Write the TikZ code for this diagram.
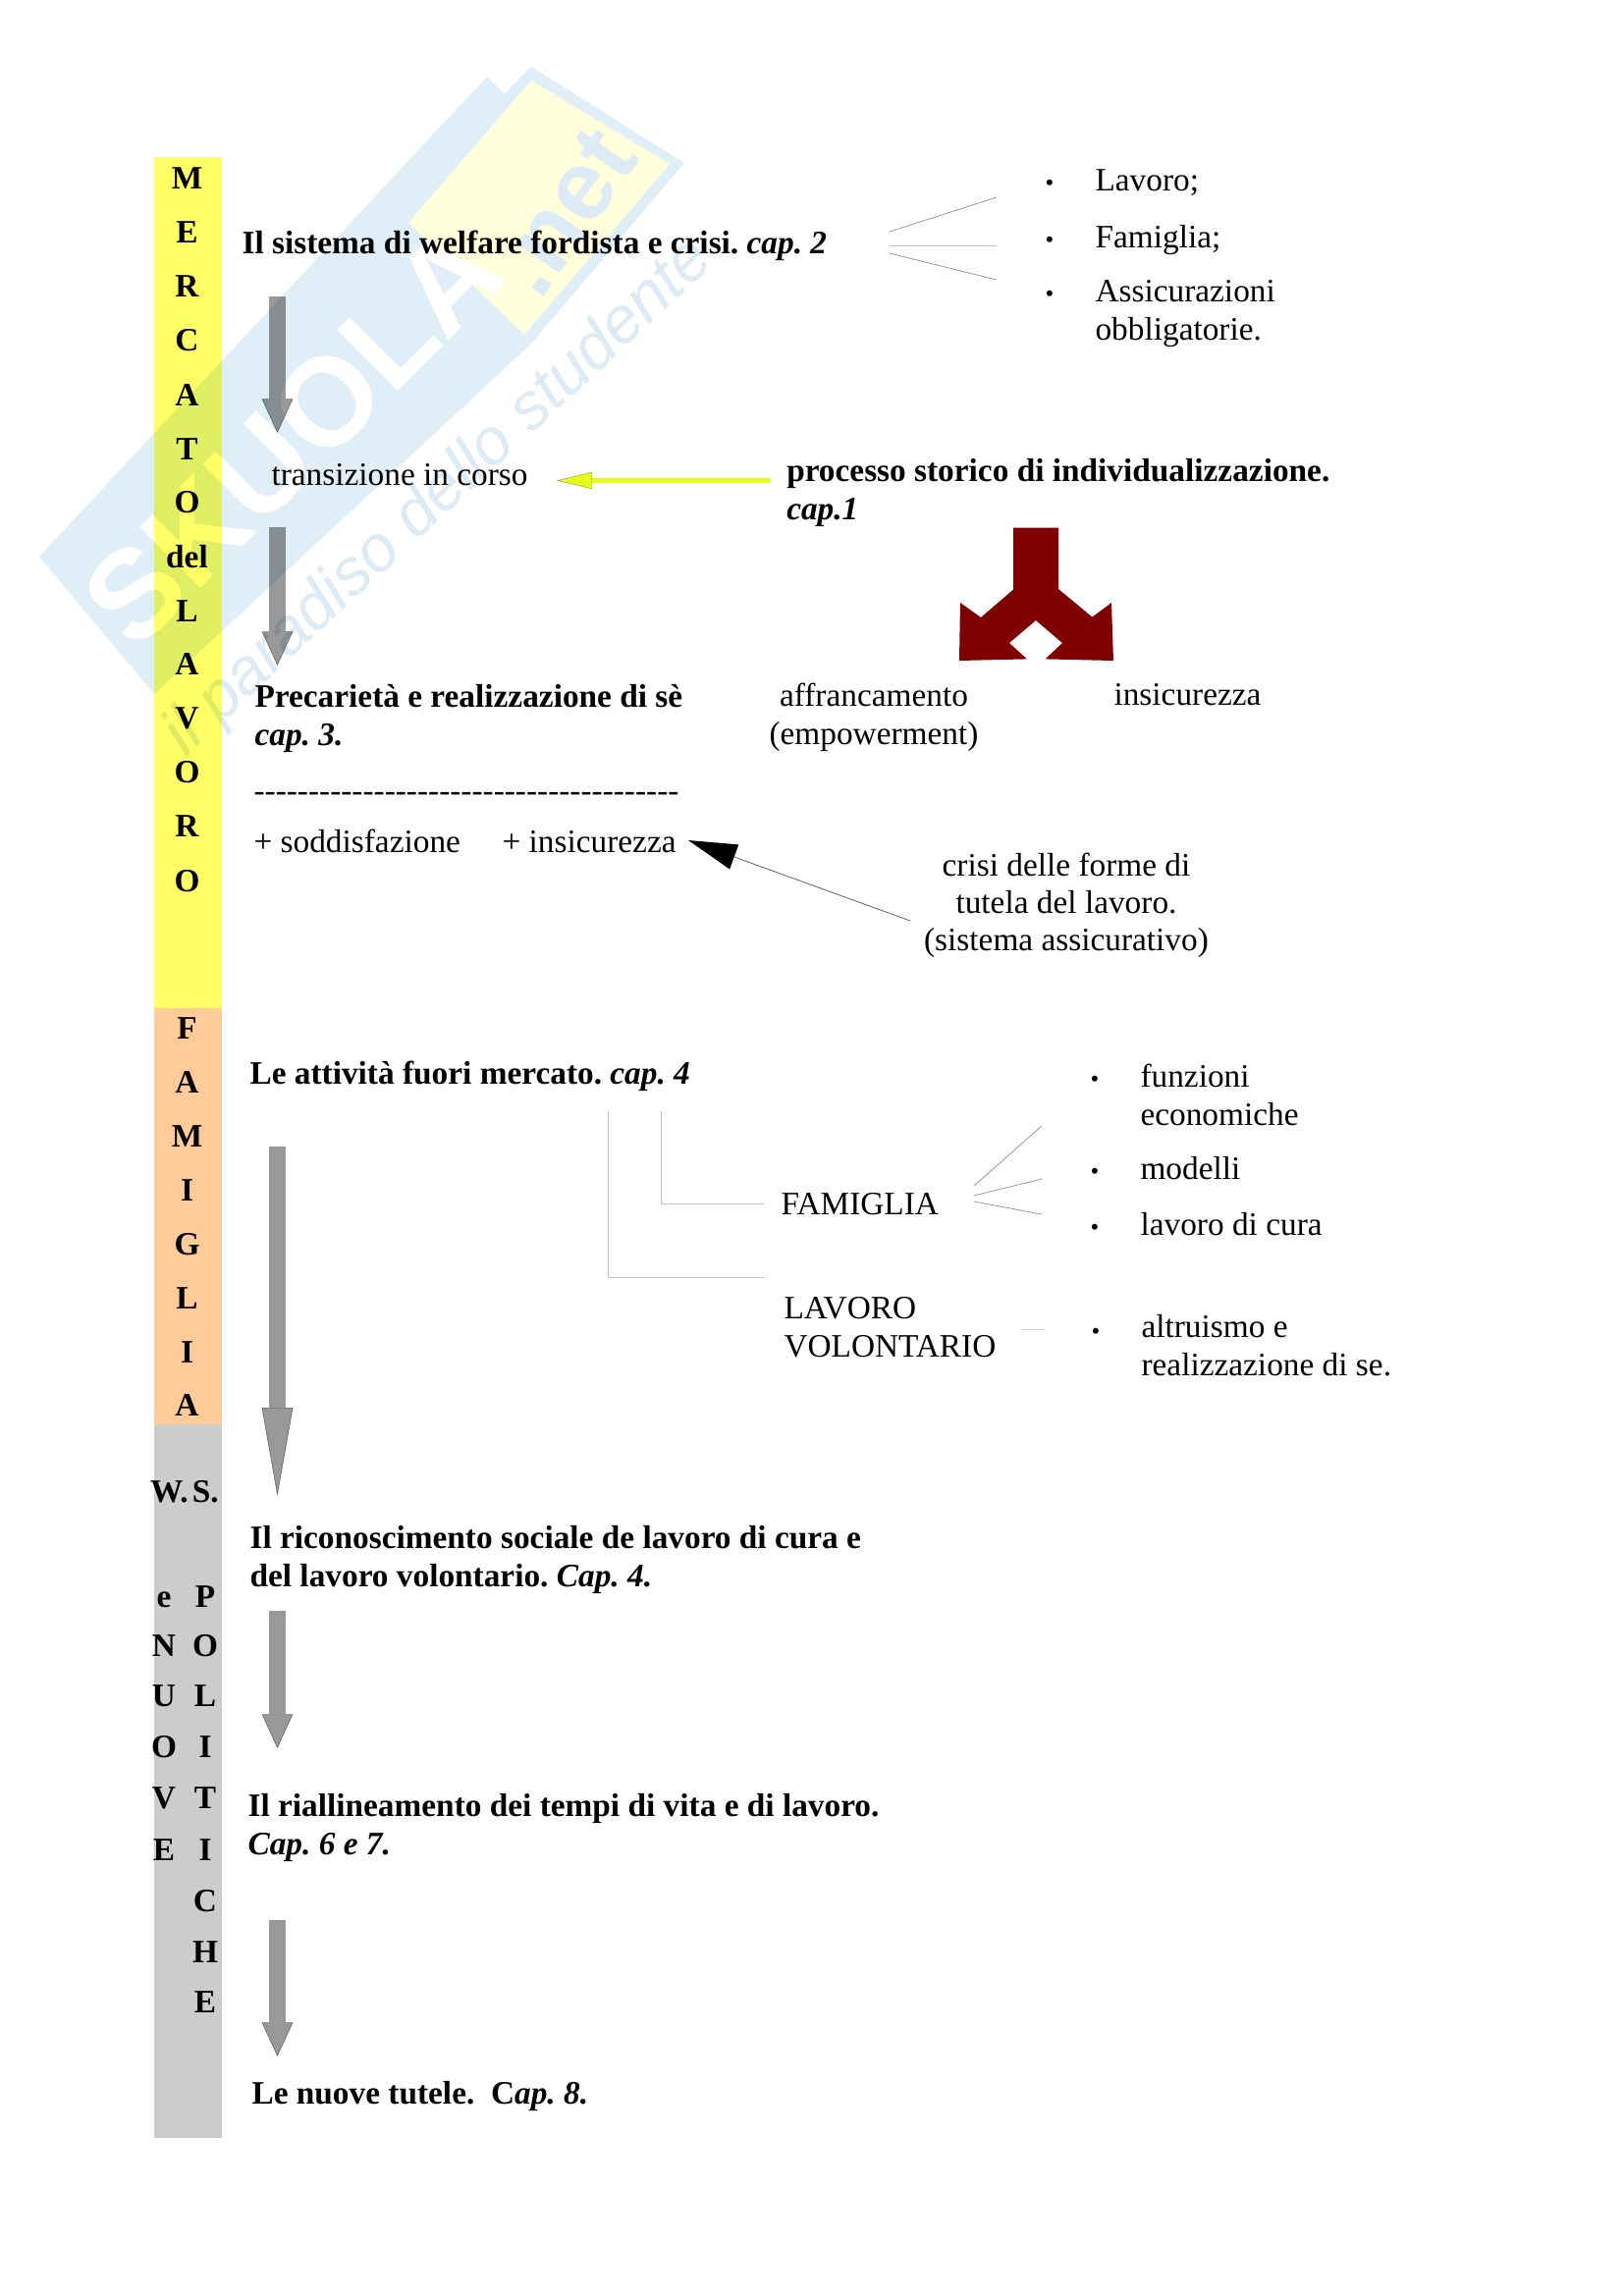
\documentclass[tikz,border=0pt]{standalone}
\usepackage{fontspec}
\setmainfont{Liberation Serif}
\newfontfamily\wmfont{Liberation Sans}
\usetikzlibrary{arrows.meta}
\definecolor{barY}{HTML}{FFFF66}
\definecolor{barO}{HTML}{FFCC99}
\definecolor{barG}{HTML}{CCCCCC}
\definecolor{arrG}{HTML}{999999}
\definecolor{forkR}{HTML}{800000}
\definecolor{wmB}{HTML}{E0EEF8}
\definecolor{wmY}{HTML}{FFFFDC}
\definecolor{wmT}{HTML}{DCEBF6}
\definecolor{lemon}{HTML}{E6FF1A}
\definecolor{lemonD}{HTML}{A0A830}
\newcommand{\hy}{-\kern0pt}
\newcommand{\hyten}{\hy\hy\hy\hy\hy\hy\hy\hy\hy\hy}
\tikzset{
  x=0.36pt,y=-0.36pt,
  txt/.style={anchor=base west,inner sep=0pt,align=left,font=\fontsize{12}{13.7}\selectfont\frenchspacing},
  ctr/.style={anchor=base,inner sep=0pt,align=center,font=\fontsize{12}{13.7}\selectfont\frenchspacing},
  bar/.style={anchor=base,inner sep=0pt,font=\fontsize{12}{14}\selectfont\bfseries},
  bul/.style={anchor=base west,inner sep=0pt,font=\fontsize{9}{10}\selectfont},
  blockarrow/.style={line width=6.1pt,arrG,-{Triangle[length=12.5pt,width=11.4pt,fill=arrG,color=arrG!85!black,line width=0.2pt]}},
  longarrow/.style={line width=6.1pt,arrG,-{Triangle[length=32.4pt,width=11.4pt,fill=arrG,color=arrG!85!black,line width=0.2pt]}},
  thinline/.style={draw=black!45,line width=0.25pt},
  paleline/.style={draw=black!25,line width=0.3pt},
  yarrow/.style={line width=1.8pt,draw=lemon,-{Triangle[length=13pt,width=6.2pt,fill=lemon,color=lemonD,line width=0.2pt]}},
  karrow/.style={line width=0.3pt,draw=black!60,-{Triangle[length=17.9pt,width=9.6pt,black,line width=0pt]}},
}
\begin{document}
\begin{tikzpicture}
\useasboundingbox (0,0) rectangle (1653,2339);
\fill[white] (0,0) rectangle (1653,2339);
% watermark
\fill[wmB] (40,567) -- (496,78) -- (514,96) -- (541,68) -- (697,166) -- (541,350) -- (157,707) -- cycle;
\fill[wmY] (541,82) -- (682,167) -- (534,341) -- (416,227) -- cycle;
\node[rotate=45,text=white,inner sep=0pt,font=\wmfont\bfseries\fontsize{46}{46}\selectfont] (wm1) at (298,444) {SKUOLA};
\node[rotate=55,text=wmT,inner sep=0pt,font=\wmfont\bfseries\fontsize{36}{36}\selectfont] (wm2) at (575,216) {.net};
\node[rotate=43,text=wmT,inner sep=0pt,font=\wmfont\itshape\fontsize{24}{24}\selectfont] (wm3) at (447,507) {il paradiso dello studente};
\begin{scope}[blend mode=multiply]
% side bars
\fill[barY] (156.5,160) rectangle (226,1027);
\fill[barO] (156.5,1027) rectangle (226,1451);
\fill[barG] (156.5,1451) rectangle (226,2178);
% arrows
\coordinate (a1s) at (282.5,302); \coordinate (a1e) at (282.5,441);
\coordinate (a2s) at (282.5,537); \coordinate (a2e) at (282.5,678);
\coordinate (a3s) at (282.5,1168); \coordinate (a3e) at (282.5,1524);
\coordinate (a4s) at (282.5,1641); \coordinate (a4e) at (282.5,1781);
\coordinate (a5s) at (282.5,1956); \coordinate (a5e) at (282.5,2095);
\draw[blockarrow] (a1s) -- (a1e);
\draw[blockarrow] (a2s) -- (a2e);
\draw[longarrow] (a3s) -- (a3e);
\draw[blockarrow] (a4s) -- (a4e);
\draw[blockarrow] (a5s) -- (a5e);
\end{scope}
% fork
\fill[forkR] (1032,537.5) -- (1078,537.5) -- (1078,600) -- (1112.4,628.6) -- (1132,614) -- (1134,673) -- (1064.5,671.4) -- (1082,655) -- (1055,632) -- (1028,655) -- (1046,671.4) -- (977,673) -- (978,614) -- (999,629) -- (1032,600.7) -- cycle;
% bar letters
\foreach \t/\y [count=\i] in {M/192,E/247,R/302,C/357,A/413,T/468,O/522,del/578,L/633,A/687,V/742,O/797,R/852,O/908}{
  \node[bar] (m\i) at (190.5,\y) {\t};}
\foreach \t/\y [count=\i] in {F/1058,A/1113,M/1168,I/1223,G/1278,L/1333,I/1388,A/1442}{
  \node[bar] (f\i) at (190.5,\y) {\t};}
\node[bar] (ws) at (188,1530) {W.\kern1.5pt S.};
\foreach \t/\y [count=\i] in {e/1637,N/1687,U/1738,O/1790,V/1842,E/1895}{
  \node[bar] (n\i) at (167,\y) {\t};}
\foreach \t/\y [count=\i] in {P/1637,O/1687,L/1738,I/1790,T/1842,I/1895,C/1947,H/1999,E/2050}{
  \node[bar] (p\i) at (209,\y) {\t};}
% top block
\node[txt] (t1) at (246,258) {\textbf{Il sistema di welfare fordista e crisi. \textit{cap. 2}}};
\coordinate (l1a) at (906,236); \coordinate (l1b) at (1015,201);
\coordinate (l2a) at (906,250); \coordinate (l2b) at (1015,250);
\coordinate (l3a) at (906,258); \coordinate (l3b) at (1015,285);
\draw[thinline] (l1a) -- (l1b);
\draw[paleline] (l2a) -- (l2b);
\draw[thinline] (l3a) -- (l3b);
\node[bul] (b1) at (1064,194) {•};
\node[bul] (b2) at (1064,252) {•};
\node[bul] (b3) at (1064,307) {•};
\node[txt] (r1) at (1115,194) {Lavoro;};
\node[txt] (r2) at (1115,252) {Famiglia;};
\node[txt] (r3) at (1115,346) {Assicurazioni\\obbligatorie.};
\node[txt] (t2) at (276,494) {transizione in corso};
\node[txt] (t3) at (800.7,529) {\textbf{processo storico di individualizzazione.}\\\textbf{\textit{cap.1}}};
\coordinate (ya) at (785,489.5); \coordinate (yb) at (567,489.5);
\draw[yarrow] (ya) -- (yb);
\node[txt] (t4) at (259,759) {\textbf{Precarietà e realizzazione di sè}\\\textbf{\textit{cap. 3.}}};
\node[ctr] (t5) at (890,758) {affrancamento\\(empowerment)};
\node[txt] (t6) at (1134,718.6) {insicurezza};
\node[txt] (t7) at (258,816) {\hyten\hyten\hyten\hy\hy\hy\hy\hy\hy\hy\hy\hy};
\node[txt] (t8) at (258,868) {+ soddisfazione};
\node[txt] (t9) at (511,868) {+ insicurezza};
\node[ctr] (t10) at (1086,968.6) {crisi delle forme di\\tutela del lavoro.\\(sistema assicurativo)};
\coordinate (ka) at (927,938); \coordinate (kb) at (701,856);
\draw[karrow] (ka) -- (kb);
% middle block
\node[txt] (t11) at (254,1104) {\textbf{Le attività fuori mercato. \textit{cap. 4}}};
\coordinate (br1a) at (673,1132); \coordinate (br1b) at (778,1226);
\coordinate (br2a) at (619,1132); \coordinate (br2b) at (779,1301);
\draw[paleline] (br1a) |- (br1b);
\draw[paleline] (br2a) |- (br2b);
\node[txt] (t12) at (795,1237) {FAMIGLIA};
\node[txt] (t13) at (798,1382) {LAVORO\\VOLONTARIO};
\coordinate (f0a) at (992,1208); \coordinate (f0b) at (1061,1147);
\coordinate (f1a) at (992,1218); \coordinate (f1b) at (1061,1201);
\coordinate (f2a) at (992,1224); \coordinate (f2b) at (1061,1237);
\draw[thinline] (f0a) -- (f0b);
\draw[thinline] (f1a) -- (f1b);
\draw[thinline] (f2a) -- (f2b);
\coordinate (v1) at (1040,1354); \coordinate (v2) at (1064,1354);
\draw[draw=black!15,line width=0.3pt] (v1) -- (v2);
\node[bul] (b4) at (1110,1107) {•};
\node[bul] (b5) at (1110,1201) {•};
\node[bul] (b6) at (1110,1258) {•};
\node[bul] (b7) at (1111,1364) {•};
\node[txt] (r4) at (1161,1146) {funzioni\\economiche};
\node[txt] (r5) at (1161,1201) {modelli};
\node[txt] (r6) at (1161,1258) {lavoro di cura};
\node[txt] (r7) at (1162,1401) {altruismo e\\realizzazione di se.};
% lower block
\node[txt] (t14) at (254,1616) {\textbf{Il riconoscimento sociale de lavoro di cura e}\\\textbf{del lavoro volontario. \textit{Cap. 4.}}};
\node[txt] (t15) at (252,1889) {\textbf{Il riallineamento dei tempi di vita e di lavoro.}\\\textbf{\textit{Cap. 6 e 7.}}};
\node[txt] (t16) at (256,2143) {\textbf{Le nuove tutele.\ \ C\textit{ap. 8.}}};
\end{tikzpicture}
\end{document}
